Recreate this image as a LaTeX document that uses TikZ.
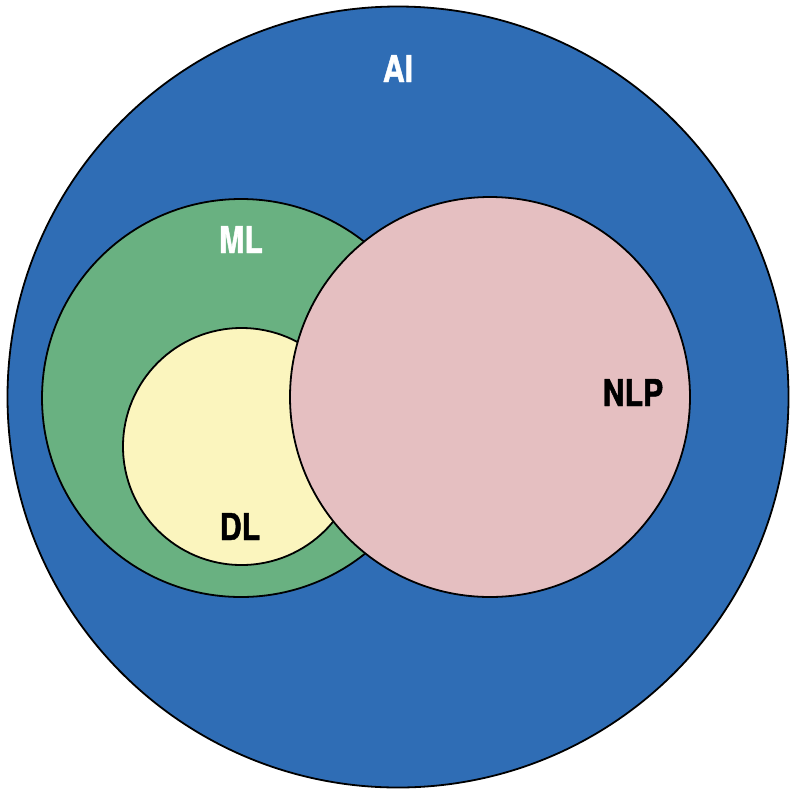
\documentclass[tikz,border=0pt]{standalone}
\usepackage{fontspec}
\setmainfont{TeX Gyre Heros}[FakeStretch=0.82, BoldFeatures={FakeBold=1.2}]
\definecolor{aiblue}{HTML}{2F6DB5}
\definecolor{mlgreen}{HTML}{69B181}
\definecolor{dlyellow}{HTML}{FBF5BE}
\definecolor{nlppink}{HTML}{E5BFC1}
\tikzset{
  setcircle/.style={draw=black, line width=1.8pt, circle, inner sep=0pt},
  lbl/.style={font=\fontsize{37}{37}\selectfont\bfseries, inner sep=0pt, anchor=base},
}
\begin{document}
\begin{tikzpicture}[x=1pt,y=-1pt]
\useasboundingbox[fill=white] (0,0) rectangle (805,796);
\node[setcircle, fill=aiblue, minimum size=781pt] (ai) at (398,397) {};
\node[setcircle, fill=mlgreen, minimum size=398pt] (ml) at (241,398) {};
\node[setcircle, fill=dlyellow, minimum size=237pt] (dl) at (241.5,446.5) {};
\node[setcircle, fill=nlppink, minimum size=400pt] (nlp) at (490,397) {};
\node[lbl, text=white] (ailbl) at (398,82) {AI};
\node[lbl, text=white] (mllbl) at (241,253) {ML};
\node[lbl, text=black] (dllbl) at (240,540) {DL};
\node[lbl, text=black] (nlplbl) at (633,406) {NLP};
\end{tikzpicture}
\end{document}
